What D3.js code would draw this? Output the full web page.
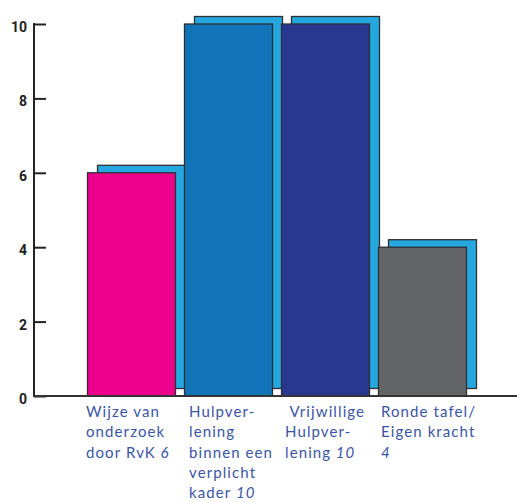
<!DOCTYPE html>
<html><head><meta charset="utf-8">
<script src="https://cdn.jsdelivr.net/npm/d3@7"></script>
<style>
html,body{margin:0;padding:0;background:#fff;}
svg{display:block;}
</style></head>
<body>
<svg id="c" width="517" height="502"></svg>
<script>
const categories = ["Wijze van onderzoek door RvK", "Hulpverlening binnen een verplicht kader", "Vrijwillige Hulpverlening", "Ronde tafel/Eigen kracht"];
const labelLines = [
  ["Wijze van", "onderzoek", "door RvK"],
  ["Hulpver-", "lening", "binnen een", "verplicht", "kader"],
  [" Vrijwillige", "Hulpver-", "lening"],
  ["Ronde tafel/", "Eigen kracht", ""]
];
const values = [6, 10, 10, 4];
const barColors = ["#ec008c", "#1174b9", "#283891", "#636466"];
const yTicks = [0, 2, 4, 6, 8, 10];

const svg = d3.select("#c");
const x = d3.scaleBand().domain(categories).range([87, 466]).paddingInner(9/97).paddingOuter(0);
const y = d3.scaleLinear().domain([0, 10]).range([396, 24]);
const dx = 10, dy = -7.5;
const shadow = "#25a8e0", outline = "#2e2e33";

// shadows
svg.append("g").selectAll("rect").data(categories).join("rect")
  .attr("x", d => x(d) + dx + 0.5)
  .attr("y", (d, i) => y(values[i]) + dy)
  .attr("width", x.bandwidth())
  .attr("height", (d, i) => y(0) - y(values[i]))
  .attr("fill", shadow).attr("stroke", outline).attr("stroke-width", 1.3);

// bars
svg.append("g").selectAll("rect").data(categories).join("rect")
  .attr("x", d => x(d) + 0.5)
  .attr("y", (d, i) => y(values[i]))
  .attr("width", x.bandwidth())
  .attr("height", (d, i) => y(0) - y(values[i]))
  .attr("fill", (d, i) => barColors[i]).attr("stroke", outline).attr("stroke-width", 1.3);

// y axis
const yAxis = d3.axisRight(y).tickValues(yTicks).tickSize(12).tickFormat("");
const ga = svg.append("g").attr("transform", "translate(34,0)").call(yAxis);
ga.select(".domain").remove();
ga.selectAll(".tick line").attr("stroke", "#222").attr("stroke-width", 2);
svg.append("line").attr("x1", 34).attr("x2", 34).attr("y1", y(10) - 1).attr("y2", y(0) + 1)
  .attr("stroke", "#222").attr("stroke-width", 2);
svg.append("line").attr("x1", 33).attr("x2", 517).attr("y1", y(0)).attr("y2", y(0))
  .attr("stroke", "#333").attr("stroke-width", 2);

svg.append("g").selectAll("text").data(yTicks).join("text")
  .attr("x", 27).attr("y", d => y(d) + 8)
  .attr("text-anchor", "end")
  .attr("font-family", "Roboto, 'Open Sans', sans-serif")
  .attr("font-weight", "bold").attr("font-size", 14).attr("fill", "#222")
  .text(d => d);

// category labels
const lab = svg.append("g").attr("font-family", "Lato, 'Open Sans', sans-serif")
  .attr("font-size", 15).attr("fill", "#3a55a5").attr("letter-spacing", 1.1);
const xoff = [-1, 5, 4, 3];
categories.forEach((c, i) => {
  const t = lab.append("text").attr("x", x(c) + xoff[i]).attr("y", 417).attr("xml:space", "preserve");
  const lines = labelLines[i];
  lines.forEach((ln, j) => {
    const ts = t.append("tspan").attr("x", x(c) + xoff[i]).attr("y", 417 + j * 20.3);
    ts.append("tspan").text(ln);
    if (j === lines.length - 1) {
      ts.append("tspan").attr("font-style", "italic").text((ln ? " " : "") + values[i]);
    }
  });
});
</script>
</body></html>
